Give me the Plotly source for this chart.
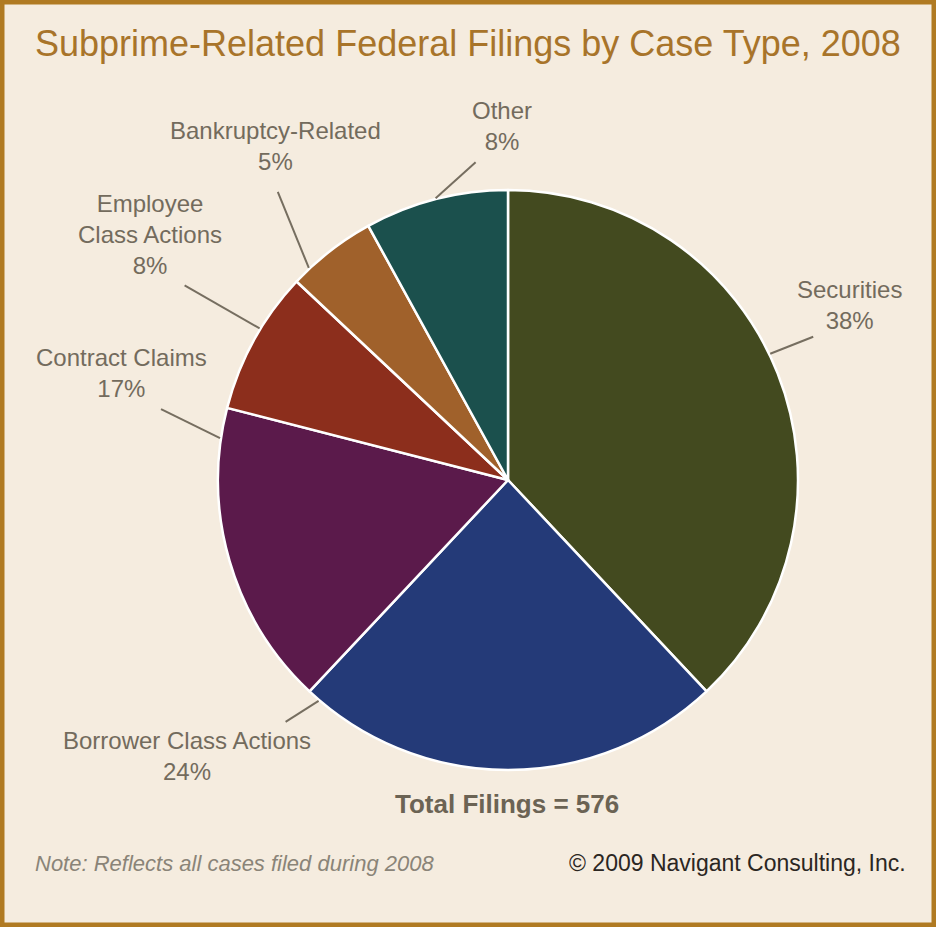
import math
import plotly.graph_objects as go

# ---- data ----
categories = ["Securities", "Borrower Class Actions", "Contract Claims",
              "Employee Class Actions", "Bankruptcy-Related", "Other"]
shares = [38, 24, 17, 8, 5, 8]
total_filings = 576
colors = ["#434A1F", "#243A78", "#5B1A4B", "#8C2E1C", "#A0612B", "#1B504D"]
title_text = "Subprime-Related Federal Filings by Case Type, 2008"
note_text = "Note: Reflects all cases filed during 2008"
credit_text = "\u00a9 2009 Navigant Consulting, Inc."
wrapped = {"Employee Class Actions": "Employee<br>Class Actions"}

# ---- layout constants (pixels) ----
W, H = 936, 927
CX, CY, R = 508, 480, 290
# fraction along each slice where the leader line touches the rim
touch_frac = [0.47, 0.97, 0.90, 0.59, 0.20, 0.50]
# leader line outer offsets (px) and label centers (px)
leader_vec = [(43, -17), (-33, 21), (-59, -29), (-75, -43), (-31, -76), (40, -36)]
label_pos = [(849, 305), (187, 756), (121, 373), (150, 234), (275, 146), (502, 126)]

BG = "#F5ECDF"
LABEL_COLOR = "#736B5D"
FONT = "Liberation Sans, Arial, sans-serif"


def px(x):
    return x / W


def py(y):
    return 1 - y / H


fig = go.Figure(go.Pie(
    labels=categories,
    values=shares,
    sort=False,
    direction="clockwise",
    rotation=0,
    marker=dict(colors=colors, line=dict(color="white", width=2.5)),
    textinfo="none",
    hoverinfo="label+percent",
    showlegend=False,
    domain=dict(x=[px(CX - R), px(CX + R)], y=[py(CY + R), py(CY - R)]),
))

annotations = []
shapes = []
total = sum(shares)
cum = 0
for i, (cat, v) in enumerate(zip(categories, shares)):
    a0 = cum / total * 360
    cum += v
    a1 = cum / total * 360
    ang = math.radians(a0 + (a1 - a0) * touch_frac[i])
    rx = CX + (R + 1) * math.sin(ang)
    ry = CY - (R + 1) * math.cos(ang)
    dx, dy = leader_vec[i]
    shapes.append(dict(type="line", xref="paper", yref="paper",
                       x0=px(rx), y0=py(ry), x1=px(rx + dx), y1=py(ry + dy),
                       line=dict(color="#766E60", width=2)))
    lx, ly = label_pos[i]
    annotations.append(dict(
        text=f"{wrapped.get(cat, cat)}<br>{v}%",
        x=px(lx), y=py(ly), xref="paper", yref="paper",
        xanchor="center", yanchor="middle", align="center", showarrow=False,
        font=dict(family=FONT, size=24, color=LABEL_COLOR)))

annotations += [
    dict(text=title_text, x=px(468), y=py(44), xref="paper", yref="paper",
         xanchor="center", yanchor="middle", showarrow=False,
         font=dict(family=FONT, size=36, color="#A8742A")),
    dict(text=f"<b>Total Filings = {total_filings}</b>", x=px(507), y=py(804),
         xref="paper", yref="paper", xanchor="center", yanchor="middle",
         showarrow=False, font=dict(family=FONT, size=26, color="#6B6354")),
    dict(text=f"<i>{note_text}</i>", x=px(33), y=py(863), xref="paper", yref="paper",
         xanchor="left", yanchor="middle", showarrow=False,
         font=dict(family=FONT, size=22, color="#8A8478")),
    dict(text=credit_text, x=px(908), y=py(863), xref="paper", yref="paper",
         xanchor="right", yanchor="middle", showarrow=False,
         font=dict(family=FONT, size=23, color="#2B2622")),
]

# frame
shapes.append(dict(type="rect", xref="paper", yref="paper", x0=0, y0=0, x1=1, y1=1,
                   line=dict(color="#B07A22", width=9), fillcolor="rgba(0,0,0,0)"))

fig.update_layout(
    width=W, height=H,
    margin=dict(l=0, r=0, t=0, b=0),
    paper_bgcolor=BG, plot_bgcolor=BG,
    annotations=annotations, shapes=shapes,
)

fig.write_html("out.html")
